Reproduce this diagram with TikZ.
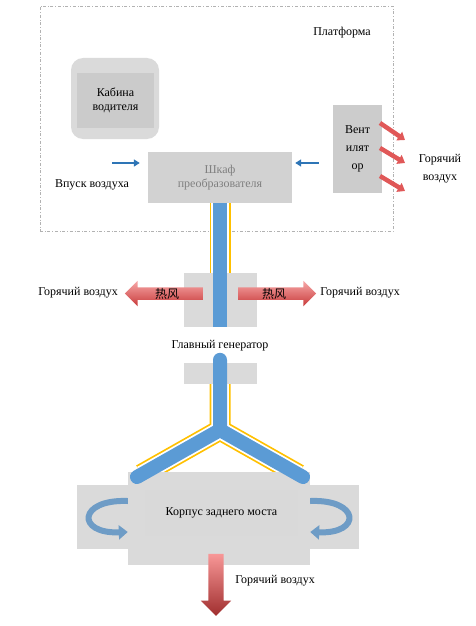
\documentclass[tikz,border=0pt]{standalone}
\usepackage{fontspec}
\setmainfont{Liberation Serif}
\newfontfamily\cjk{Noto Sans CJK SC}
\usetikzlibrary{arrows.meta,shapes.arrows,positioning}

\definecolor{boxgray}{HTML}{DADADA}
\definecolor{innergray}{HTML}{CBCBCB}
\definecolor{shaftblue}{HTML}{5B9BD5}
\definecolor{airblue}{HTML}{2E75B6}
\definecolor{swirlblue}{HTML}{6E9CC6}
\definecolor{cablegold}{HTML}{FFC000}
\definecolor{hotlight}{HTML}{F7A8A8}
\definecolor{hotdark}{HTML}{C83A3A}
\definecolor{fanred}{HTML}{E05858}

\begin{document}
\begin{tikzpicture}[x=1pt,y=-1pt,font=\fontsize{12}{14}\selectfont,
    every node/.style={align=center},
    box/.style={fill=boxgray,draw=none,inner sep=0pt},
    innerbox/.style={box,fill=innergray},
    airin/.style={-{Triangle[length=6pt,width=7pt]},line width=2pt,airblue},
    fanhot/.style={-{Triangle[length=7pt,width=10pt]},line width=4.5pt,fanred},
    hotarrow/.style={single arrow,draw=none,top color=hotlight,bottom color=hotdark,
        inner xsep=2pt,inner ysep=0.5pt,single arrow head extend=6.5pt,minimum height=78pt,
        font=\cjk\fontsize{12}{12}\selectfont},
    swirl/.style={-{Triangle[length=9pt,width=14pt]},line width=6pt,swirlblue},
    gold/.style={cablegold,line width=21pt,line join=round},
    goldgap/.style={white,line width=17.5pt,line join=round},
    shaft/.style={shaftblue,line width=14pt,line join=round,line cap=round}]
\useasboundingbox (0,0) rectangle (475,626);

% platform
\node[draw=gray!60,dash dot,minimum width=353pt,minimum height=225pt] (platform) at (216.5,118.5) {};
\node (platlabel) at (342,33) {Платформа};

% driver cabin
\node[box,rounded corners=12pt,minimum width=88pt,minimum height=81pt] (cabin) at (115,98.5) {};
\node[innerbox,minimum width=77pt,minimum height=55pt] (cabinin) at (115.5,100.5) {Кабина\\водителя};

% converter cabinet and fan
\node[box,fill=gray!35,minimum width=144pt,minimum height=51pt,text=gray] (converter) at (220,177.5) {Шкаф\\преобразователя};
\node[box,fill=gray!40,minimum width=49pt,minimum height=88pt,font=\fontsize{12}{18}\selectfont] (fan) at (357.5,149) {Вент\\илят\\ор};

\coordinate (intake) at (112,163);
\draw[airin] (intake) -- ([xshift=-8pt]converter.west |- intake);
\draw[airin] ([xshift=-14pt]fan.west |- intake) -- ([xshift=3pt]converter.east |- intake);
\node (intakelabel) at (92,185) {Впуск воздуха};

\node[font=\fontsize{12}{18}\selectfont] (fanair) at (440,169) {Горячий\\воздух};
\draw[fanhot] (380,123) -- (405,140);
\draw[fanhot] (380,148) -- (405,163);
\draw[fanhot] (380,176) -- (405,191);

% main generator
\node[box,minimum width=73pt,minimum height=54pt] (generator) at (220,300) {};
\node (genlabel) at (220,346) {Главный генератор};
\node[box,minimum width=73pt,minimum height=21pt] (genlow) at (220,373.5) {};

\node[hotarrow,shape border rotate=180] (hotL) at (167,293.5) {热风};
\node[hotarrow] (hotR) at (274,293.5) {热风};
\node (hotLlabel) at (78,293) {Горячий воздух};
\node (hotRlabel) at (360,293) {Горячий воздух};

% shaft to rear axle
\coordinate (fork) at (220,430);
\coordinate (legL) at (137,477);
\coordinate (legR) at (303,477);
\draw[gold] (converter.south) -- (generator.north);
\draw[goldgap] (converter.south) -- (generator.north);
\draw[gold,shorten >=5pt] (genlow.south) -- (fork) -- (legL);
\draw[gold,shorten >=5pt] (fork) -- (legR);
\draw[goldgap,shorten >=5pt] (genlow.south) -- (fork) -- (legL);
\draw[goldgap,shorten >=5pt] (fork) -- (legR);

% rear axle housing
\node[box,minimum width=282pt,minimum height=64pt] (axlewide) at (218,517) {};
\node[box,minimum width=182pt,minimum height=93pt] (axletall) at (219,518.5) {};
\node[innerbox,fill=gray!30,minimum width=153pt,minimum height=46pt] (axle) at (221.5,513) {Корпус заднего моста};

\draw[shaft,line cap=butt] (converter.south) -- (generator.south);
\draw[shaft] ([yshift=3pt]genlow.north) -- (fork) -- (legL);
\draw[shaft] (fork) -- (legR);

\draw[swirl] (axletall.west |- 0,501) .. controls (78,499) and (76,534) .. (axletall.west |- 0,532);
\draw[swirl] (axletall.east |- 0,501) .. controls (360,499) and (362,534) .. (axletall.east |- 0,532);

\node[single arrow,draw=none,shape border rotate=270,top color=hotlight!90!red,bottom color=hotdark!80!black,
    inner sep=7.5pt,single arrow head extend=7.5pt,minimum height=62pt] (hotdown) at (216,581) {};
\node (hotdownlabel) at (275,581) {Горячий воздух};
\end{tikzpicture}
\end{document}
